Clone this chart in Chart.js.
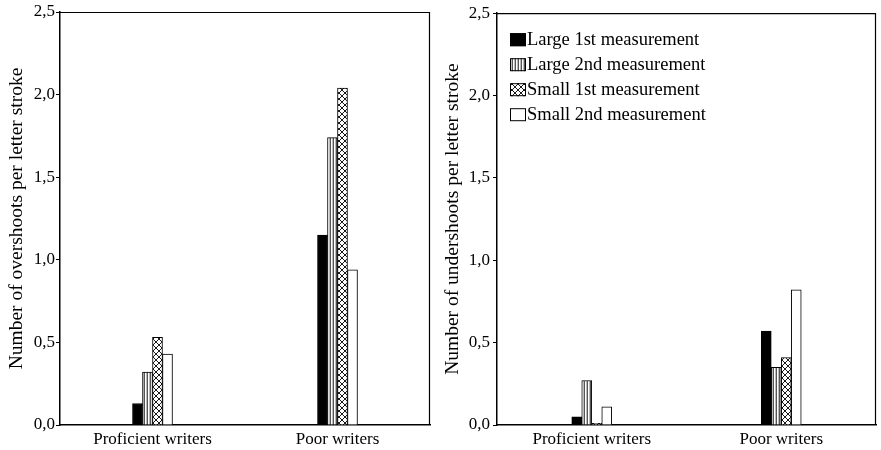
<!DOCTYPE html>
<html>
<head>
<meta charset="utf-8">
<script src="https://cdn.jsdelivr.net/npm/chart.js@4.4.1/dist/chart.umd.min.js"></script>
<style>
html,body{margin:0;padding:0;background:#fff;}
#wrap{position:relative;width:881px;height:450px;}
#c1{position:absolute;left:0;top:0;}
#c2{position:absolute;left:440px;top:0;}
</style>
</head>
<body>
<div id="wrap">
<canvas id="c1" width="440" height="450"></canvas>
<canvas id="c2" width="441" height="450"></canvas>
</div>
<script>
const categories = ['Proficient writers', 'Poor writers'];
const seriesLabels = ['Large 1st measurement', 'Large 2nd measurement', 'Small 1st measurement', 'Small 2nd measurement'];
const overshootsLarge1 = [0.13, 1.15];
const overshootsLarge2 = [0.32, 1.74];
const overshootsSmall1 = [0.53, 2.04];
const overshootsSmall2 = [0.43, 0.94];
const undershootsLarge1 = [0.05, 0.57];
const undershootsLarge2 = [0.27, 0.35];
const undershootsSmall1 = [0.01, 0.41];
const undershootsSmall2 = [0.11, 0.82];
const yTickLabels = ['0,0', '0,5', '1,0', '1,5', '2,0', '2,5'];
const leftTitle = 'Number of overshoots per letter stroke';
const rightTitle = 'Number of undershoots per letter stroke';

const FONT = "'Liberation Serif', 'DejaVu Serif', serif";

function makePattern(kind) {
  const c = document.createElement('canvas');
  const ctx = c.getContext('2d');
  if (kind === 'stripes') {
    c.width = 3; c.height = 3;
    ctx.fillStyle = '#fff'; ctx.fillRect(0, 0, 3, 3);
    ctx.fillStyle = '#555'; ctx.fillRect(0, 0, 1, 3);
    ctx.fillStyle = '#bbb'; ctx.fillRect(2, 0, 1, 3);
  } else {
    c.width = 6; c.height = 6;
    ctx.fillStyle = '#fff'; ctx.fillRect(0, 0, 6, 6);
    ctx.strokeStyle = '#000'; ctx.lineWidth = 0.9;
    ctx.beginPath();
    ctx.moveTo(0, 0); ctx.lineTo(6, 6);
    ctx.moveTo(6, 0); ctx.lineTo(0, 6);
    ctx.stroke();
  }
  return ctx.createPattern(c, 'repeat');
}
const fills = ['#000', makePattern('stripes'), makePattern('cross'), '#fff'];

const boxPlugin = {
  id: 'box',
  afterDraw(chart) {
    const a = chart.chartArea, ctx = chart.ctx;
    ctx.save();
    ctx.strokeStyle = '#000';
    ctx.lineWidth = 1.2;
    ctx.beginPath();
    ctx.moveTo(a.left, a.top + 0.5);
    ctx.lineTo(a.right - 0.5, a.top + 0.5);
    ctx.lineTo(a.right - 0.5, a.bottom);
    ctx.stroke();
    ctx.restore();
  }
};

const legendPlugin = {
  id: 'customLegend',
  afterDraw(chart, args, opts) {
    if (!opts.show) return;
    const ctx = chart.ctx, a = chart.chartArea;
    ctx.save();
    ctx.font = '18.5px ' + FONT;
    ctx.textBaseline = 'middle';
    ctx.fillStyle = '#000';
    chart.data.datasets.forEach((ds, i) => {
      const y = a.top + 26 + i * 25;
      const x = a.left + 13;
      ctx.fillStyle = ds.backgroundColor;
      ctx.fillRect(x, y - 6, 16, 13);
      ctx.strokeStyle = '#000';
      ctx.lineWidth = 1;
      ctx.strokeRect(x + 0.5, y - 5.5, 15, 12);
      ctx.fillStyle = '#000';
      ctx.fillText(ds.label, x + 17, y + 1);
    });
    ctx.restore();
  }
};

function makeChart(id, data, title, yWidth, padRight, titlePad, tickPad, showLegend) {
  return new Chart(document.getElementById(id), {
    type: 'bar',
    data: {
      labels: categories,
      datasets: data.map((d, i) => ({
        label: seriesLabels[i],
        data: d,
        backgroundColor: fills[i],
        borderColor: '#000',
        borderWidth: 1,
        barThickness: 10
      }))
    },
    options: {
      responsive: false,
      animation: false,
      devicePixelRatio: 1,
      layout: { padding: { top: 12, right: padRight, left: 0, bottom: 0 } },
      plugins: {
        legend: { display: false },
        tooltip: { enabled: false },
        customLegend: { show: showLegend }
      },
      scales: {
        x: {
          grid: { display: false, drawTicks: false },
          border: { display: true, color: '#000', width: 1.5 },
          ticks: { color: '#000', font: { family: FONT, size: 17 }, padding: 4, maxRotation: 0 },
          afterFit(s) { s.height = 25; }
        },
        y: {
          min: 0, max: 2.5,
          grid: { drawOnChartArea: false, drawTicks: true, tickLength: 4, color: '#000' },
          border: { display: true, color: '#000', width: 1.5 },
          ticks: {
            stepSize: 0.5,
            color: '#000',
            font: { family: FONT, size: 17 },
            padding: tickPad,
            callback: (v, i) => yTickLabels[i]
          },
          title: {
            display: true, text: title, color: '#000',
            font: { family: FONT, size: 19.5 },
            padding: { top: titlePad, bottom: 0 }
          },
          afterFit(s) { s.width = yWidth; }
        }
      }
    },
    plugins: [boxPlugin, legendPlugin]
  });
}

makeChart('c1', [overshootsLarge1, overshootsLarge2, overshootsSmall1, overshootsSmall2], leftTitle, 60, 10, 5, 1, false);
makeChart('c2', [undershootsLarge1, undershootsLarge2, undershootsSmall1, undershootsSmall2], rightTitle, 57, 5, 1, 3, true);
</script>
</body>
</html>
